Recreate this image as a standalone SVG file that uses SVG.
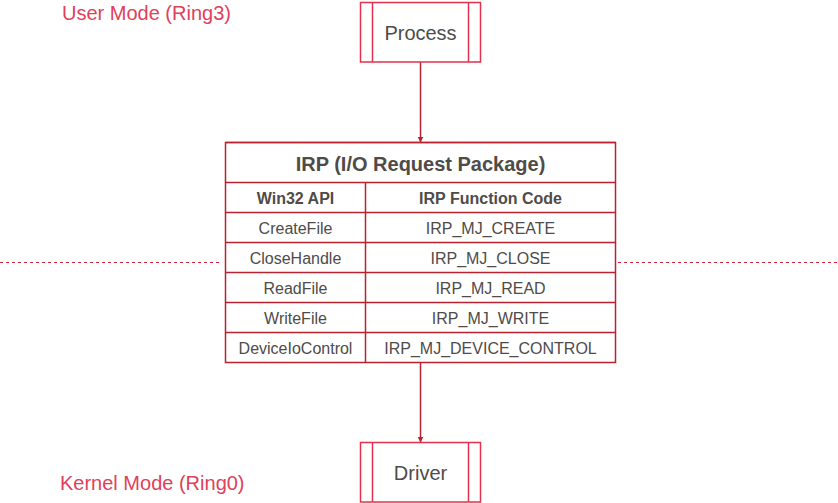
<svg xmlns="http://www.w3.org/2000/svg" width="838" height="503" viewBox="0 0 838 503">
<style>
text{font-family:"Liberation Sans",Arial,sans-serif;fill:#4f4b49;text-anchor:middle}
.lbl{fill:#e0415a;font-size:20px;text-anchor:start}
.box{fill:#fff;stroke:#e0314e;stroke-width:1.5}
.tb{fill:none;stroke:#b8232f;stroke-width:1.5}
.cell{font-size:16px}
.hd{font-size:16px;font-weight:bold}
.conn{stroke:#b8232f;stroke-width:1.5;fill:none}
.dash{stroke:#c8283c;stroke-width:1;stroke-dasharray:3 3;fill:none}
</style>
<defs>
<marker id="arr" viewBox="0 0 10 10" refX="9" refY="5" markerWidth="6" markerHeight="6" orient="auto" markerUnits="userSpaceOnUse">
<path d="M0,0 L10,5 L0,10 z" fill="#b8232f"/>
</marker>
</defs>
<g id="labels">
<text class="lbl" x="62" y="20">User Mode (Ring3)</text>
<text class="lbl" x="60" y="490">Kernel Mode (Ring0)</text>
</g>
<g id="connectors">
<line class="dash" x1="0" y1="262.5" x2="220" y2="262.5"/>
<line class="dash" x1="618" y1="262.5" x2="838" y2="262.5"/>
<line class="conn" x1="420.5" y1="62" x2="420.5" y2="142" marker-end="url(#arr)"/>
<line class="conn" x1="420.5" y1="362" x2="420.5" y2="442" marker-end="url(#arr)"/>
</g>
<g id="process">
<rect class="box" x="360.5" y="2.5" width="120" height="59.5"/>
<line class="box" x1="372.5" y1="2.5" x2="372.5" y2="62"/>
<line class="box" x1="468.5" y1="2.5" x2="468.5" y2="62"/>
<text x="420.5" y="40" style="font-size:20px">Process</text>
</g>
<g id="irp-table">
<rect x="225.5" y="142.5" width="390" height="220" fill="#fff"/>
<line x1="225.5" y1="142.5" x2="615.5" y2="142.5" stroke="#e0314e" stroke-width="1.5"/>
<rect class="tb" x="225.5" y="142.5" width="390" height="220"/>
<path class="tb" d="M225.5 182.5H615.5M225.5 212.5H615.5M225.5 242.5H615.5M225.5 272.5H615.5M225.5 302.5H615.5M225.5 332.5H615.5M365.5 182.5V362.5"/>
<text x="420.5" y="171" style="font-size:20px;font-weight:bold">IRP (I/O Request Package)</text>
<text class="hd" x="295.5" y="204">Win32 API</text>
<text class="hd" x="490.5" y="204">IRP Function Code</text>
<text class="cell" x="295.5" y="234">CreateFile</text>
<text class="cell" x="490.5" y="234">IRP_MJ_CREATE</text>
<text class="cell" x="295.5" y="264">CloseHandle</text>
<text class="cell" x="490.5" y="264">IRP_MJ_CLOSE</text>
<text class="cell" x="295.5" y="294">ReadFile</text>
<text class="cell" x="490.5" y="294">IRP_MJ_READ</text>
<text class="cell" x="295.5" y="324">WriteFile</text>
<text class="cell" x="490.5" y="324">IRP_MJ_WRITE</text>
<text class="cell" x="295.5" y="354">DeviceIoControl</text>
<text class="cell" x="490.5" y="354">IRP_MJ_DEVICE_CONTROL</text>
</g>
<g id="driver">
<rect class="box" x="360.5" y="442.5" width="120" height="59.5"/>
<line class="box" x1="372.5" y1="442.5" x2="372.5" y2="502"/>
<line class="box" x1="468.5" y1="442.5" x2="468.5" y2="502"/>
<text x="420.5" y="480" style="font-size:20px">Driver</text>
</g>
</svg>
